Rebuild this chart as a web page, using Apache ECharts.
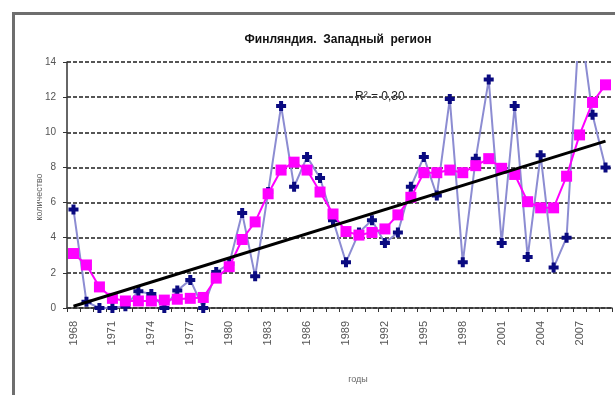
<!DOCTYPE html>
<html>
<head>
<meta charset="utf-8">
<script src="https://cdn.jsdelivr.net/npm/echarts@6/dist/echarts.min.js"></script>
<style>
  html, body { margin: 0; padding: 0; background: #fff; }
  #chart { width: 615px; height: 395px; }
</style>
</head>
<body>
<div id="chart"></div>
<script>
// Years 1968–2009
const years = [];
for (let y = 1968; y <= 2009; y++) years.push(String(y));

// Annual values
const annualValues = [
  5.6, 0.35, 0, 0, 0.1, 0.95, 0.8, 0, 1.0, 1.6,
  0, 2.05, 2.5, 5.4, 1.8, 6.6, 11.5, 6.9, 8.6, 7.4,
  5.0, 2.6, 4.3, 5.0, 3.7, 4.3, 6.9, 8.6, 6.4, 11.9,
  2.6, 8.5, 13.0, 3.7, 11.5, 2.9, 8.7, 2.3, 4.0, 16.5,
  11.0, 8.0
];

// Smoothed values
const smoothedValues = [
  3.1, 2.45, 1.2, 0.55, 0.4, 0.4, 0.4, 0.45, 0.5, 0.55,
  0.6, 1.7, 2.35, 3.9, 4.9, 6.5, 7.85, 8.3, 7.85, 6.6,
  5.35, 4.35, 4.15, 4.3, 4.5, 5.3, 6.3, 7.7, 7.7, 7.85,
  7.7, 8.1, 8.5, 7.95, 7.6, 6.05, 5.7, 5.7, 7.5, 9.85,
  11.7, 12.7
];

// Linear trend: value at the first and last year
const trendEnds = [0.1, 9.5];

const yTicks = { min: 0, max: 14, interval: 2 };

const chart = echarts.init(document.getElementById('chart'));

const plusMarker = 'path://M3,0h4v3h3v4h-3v3h-4v-3h-3v-4h3z';

chart.setOption({
  animation: false,
  backgroundColor: '#fff',
  textStyle: { fontFamily: 'Liberation Sans' },
  title: {
    text: 'Финляндия.  Западный  регион',
    left: 333,
    textAlign: 'center',
    top: 29,
    textStyle: { fontSize: 12, fontWeight: 'bold', color: '#111', fontFamily: 'Liberation Sans' }
  },
  graphic: [{
    type: 'rect',
    shape: { x: 13.5, y: 13.5, width: 700, height: 500 },
    style: { fill: 'none', stroke: '#6e6e6e', lineWidth: 3 },
    silent: true
  }, {
    type: 'text',
    x: 355,
    y: 97,
    style: { text: 'R² = 0,30', fontSize: 12, fill: '#222', fontFamily: 'Liberation Sans', verticalAlign: 'middle' }
  }, {
    // y-axis title
    type: 'text',
    x: 40,
    y: 197,
    rotation: Math.PI / 2,
    style: { text: 'количество', fontSize: 9, fill: '#666', align: 'center', verticalAlign: 'middle', fontFamily: 'Liberation Sans' }
  }, {
    // x-axis title
    type: 'text',
    x: 358,
    y: 380,
    style: { text: 'годы', fontSize: 9, fill: '#666', align: 'center', verticalAlign: 'middle', fontFamily: 'Liberation Sans' }
  }],
  grid: { left: 67, right: 3, top: 62, bottom: 87, containLabel: false },
  xAxis: {
    type: 'category',
    data: years,
    boundaryGap: true,
    axisLine: { lineStyle: { color: '#333', width: 1.5 } },
    axisTick: { show: true, interval: 0, length: 4, lineStyle: { color: '#333' } },
    axisLabel: {
      interval: 2,
      rotate: 90,
      fontSize: 11,
      color: '#555',
      margin: 13
    },
    splitLine: { show: false }
  },
  yAxis: {
    type: 'value',
    min: yTicks.min,
    max: yTicks.max,
    interval: yTicks.interval,
    axisLine: { show: true, lineStyle: { color: '#333', width: 1.5 } },
    axisTick: { show: true, length: 4, lineStyle: { color: '#333' } },
    axisLabel: { fontSize: 10, color: '#555', margin: 11 },
    splitLine: { show: true, lineStyle: { color: '#555', width: 2, type: [4, 2] } }
  },
  series: [{
    name: 'annual',
    type: 'line',
    data: annualValues,
    z: 2,
    symbol: plusMarker,
    symbolSize: 10,
    showAllSymbol: true,
    lineStyle: { color: '#8c8cd2', width: 2 },
    itemStyle: { color: '#0a0a80' }
  }, {
    name: 'smoothed',
    type: 'line',
    data: smoothedValues,
    z: 3,
    symbol: 'rect',
    symbolSize: 11,
    showAllSymbol: true,
    lineStyle: { color: '#ff00ff', width: 2 },
    itemStyle: { color: '#ff00ff' }
  }, {
    name: 'trend',
    type: 'line',
    data: [[years[0], trendEnds[0]], [years[years.length - 1], trendEnds[1]]],
    z: 4,
    symbol: 'none',
    lineStyle: { color: '#000', width: 3 }
  }]
});
</script>
</body>
</html>
